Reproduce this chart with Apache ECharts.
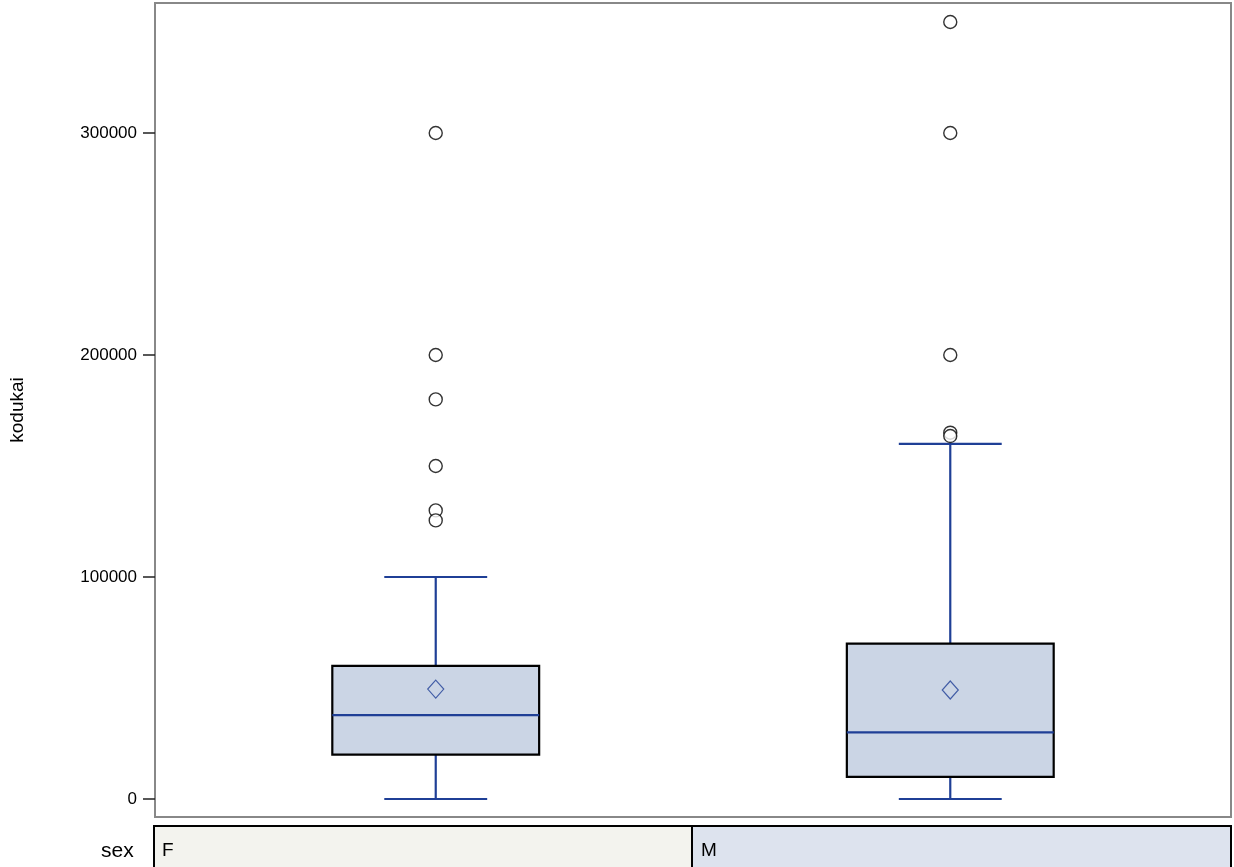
<!DOCTYPE html><html><head><meta charset="utf-8"><script src="https://cdn.jsdelivr.net/npm/echarts@6/dist/echarts.min.js"></script></head><body style="margin:0"><div id="c" style="width:1234px;height:867px"></div><script>
const categories=['F','M'];
const boxStats=[[0,20000,37800,60000,100000],[0,10000,30000,70000,160000]];
const means=[49500,49100];
const outliersF=[300000,200000,180000,150000,130000,125500];
const outliersM=[350000,300000,200000,165000,163500];
const yTicks=[0,100000,200000,300000];
const ch=echarts.init(document.getElementById('c'));
const blue='#1f3f96';
const boxData=boxStats.map((s,i)=>[i+1,...s]);
const outData=[...outliersF.map(v=>[1,v]),...outliersM.map(v=>[2,v])];
ch.setOption({animation:false,
grid:{left:154,right:3,top:3,bottom:50,show:true,borderColor:'#888',borderWidth:2},
xAxis:{type:'value',min:0.4544,max:2.5456,show:false},
yAxis:{type:'value',min:-8108,max:358559,splitLine:{show:false},
 axisLine:{show:false},axisTick:{show:true,length:12,lineStyle:{color:'#222',width:1.5},customValues:yTicks},
 axisLabel:{fontSize:17,margin:18,color:'#000',fontFamily:'Liberation Sans',customValues:yTicks,formatter:v=>String(v)},
 name:'kodukai',nameLocation:'middle',nameGap:128,nameTextStyle:{fontSize:19,color:'#000',fontFamily:'Liberation Sans'}},
series:[{type:'custom',data:boxData,encode:{x:0,y:[1,2,3,4,5]},renderItem:(p,api)=>{
 const x=api.value(0);const c=k=>api.coord([x,api.value(k)]);
 const hw=0.201,cw=0.1;
 const L=api.coord([x-hw,0])[0],R=api.coord([x+hw,0])[0],cl=api.coord([x-cw,0])[0],cr=api.coord([x+cw,0])[0];
 const [cx,ylo]=c(1),yq1=c(2)[1],ymed=c(3)[1],yq3=c(4)[1],yhi=c(5)[1];
 const ls={stroke:blue,lineWidth:2.2};
 return {type:'group',children:[
  {type:'line',shape:{x1:cx,y1:ylo,x2:cx,y2:yq1},style:ls},
  {type:'line',shape:{x1:cx,y1:yq3,x2:cx,y2:yhi},style:ls},
  {type:'line',shape:{x1:cl,y1:ylo,x2:cr,y2:ylo},style:ls},
  {type:'line',shape:{x1:cl,y1:yhi,x2:cr,y2:yhi},style:ls},
  {type:'rect',shape:{x:L,y:yq3,width:R-L,height:yq1-yq3},style:{fill:'#cbd5e5',stroke:'#000',lineWidth:2.2}},
  {type:'line',shape:{x1:L,y1:ymed,x2:R,y2:ymed},style:ls}]};}},
 {type:'scatter',data:means.map((v,i)=>[i+1,v]),symbol:'diamond',symbolSize:[16,18],itemStyle:{color:'rgba(0,0,0,0)',borderColor:blue,borderWidth:1.2},z:5},
 {type:'scatter',data:outData,symbol:'circle',symbolSize:13,itemStyle:{color:'#fff',borderColor:'#000',borderWidth:1.4}}],
graphic:[
 {type:'rect',shape:{x:154,y:826,width:538,height:42},style:{fill:'#f3f3ee',stroke:'#000',lineWidth:2}},
 {type:'rect',shape:{x:692,y:826,width:539,height:42},style:{fill:'#dde3ee',stroke:'#000',lineWidth:2}},
 {type:'text',x:162,y:841,style:{text:categories[0],fontSize:19,fill:'#000',fontFamily:'Liberation Sans'}},
 {type:'text',x:701,y:841,style:{text:categories[1],fontSize:19,fill:'#000',fontFamily:'Liberation Sans'}},
 {type:'text',x:101,y:841,style:{text:'sex',fontSize:21,fill:'#000',fontFamily:'Liberation Sans'}}]
});
</script></body></html>
